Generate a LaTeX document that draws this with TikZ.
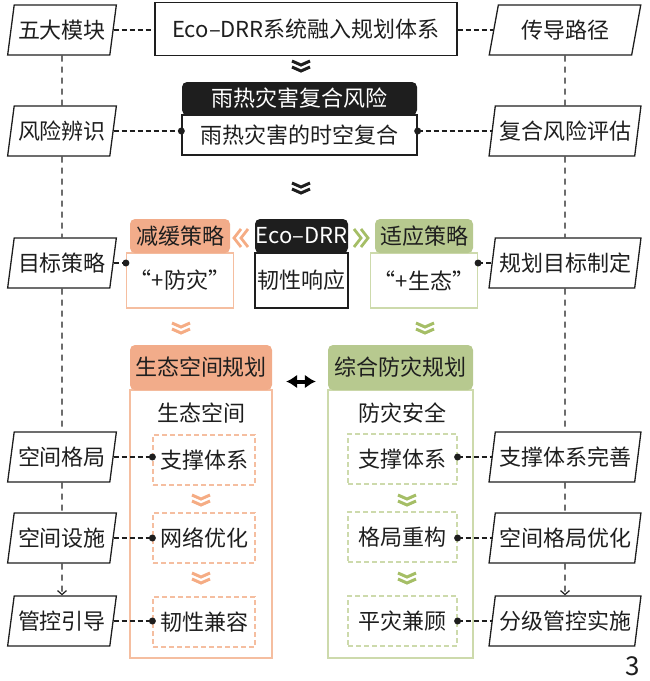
\documentclass[tikz,border=0pt]{standalone}
\usepackage{fontspec}
\newfontfamily\cjk{Noto Sans CJK SC}
\usetikzlibrary{shapes.geometric,arrows.meta}
\definecolor{ink}{RGB}{30,30,30}
\definecolor{orhead}{RGB}{242,172,138}
\definecolor{orline}{RGB}{245,190,160}
\definecolor{orchev}{RGB}{245,172,132}
\definecolor{grhead}{RGB}{183,201,143}
\definecolor{grline}{RGB}{205,218,172}
\definecolor{grchev}{RGB}{165,190,102}
\begin{document}
\begin{tikzpicture}[x=1pt,y=-1pt,
	every node/.style={font=\cjk\fontsize{22}{22}\selectfont, text=ink},
	para/.style={trapezium, trapezium left angle=77, trapezium right angle=103, trapezium stretches=true,
		draw=ink, line width=1.3pt, minimum width=109pt, minimum height=50pt, inner xsep=-3pt, inner ysep=2pt},
	frame/.style={draw=ink, line width=1.3pt, inner sep=0pt},
	hdr/.style={rounded corners=5pt, inner sep=0pt},
	subbox/.style={dash pattern=on 5pt off 3pt, line width=1.2pt, inner sep=0pt, minimum width=#1, minimum height=50pt},
	link/.style={draw=ink, line width=1.2pt, dash pattern=on 5pt off 3pt},
	vlink/.style={draw=ink, line width=1.2pt, dash pattern=on 6pt off 5pt},
	chevd/.pic={\draw[line width=3pt, pic actions] (-9,-5) -- (0,-1) -- (9,-5) (-9,1) -- (0,5) -- (9,1);},
	chevl/.pic={\draw[line width=2.8pt, pic actions] (0,-9) -- (-7,0) -- (0,9) (7,-9) -- (0,0) -- (7,9);},
	chevr/.pic={\draw[line width=2.8pt, pic actions] (0,-9) -- (7,0) -- (0,9) (-7,-9) -- (0,0) -- (-7,9);}
	]
	\useasboundingbox (0,0) rectangle (650,681);

	\node[para] (p1) at (62,30) {五大模块};
	\node[para] (p2) at (62,131) {风险辨识};
	\node[para] (p3) at (62,263) {目标策略};
	\node[para] (p4) at (62,457) {空间格局};
	\node[para] (p5) at (62,538) {空间设施};
	\node[para] (p6) at (62,621) {管控引导};
	\node[para, minimum width=152pt] (q1) at (565,30) {传导路径};
	\node[para, minimum width=152pt] (q2) at (565,131) {复合风险评估};
	\node[para, minimum width=152pt] (q3) at (565,263) {规划目标制定};
	\node[para, minimum width=152pt] (q4) at (565,457) {支撑体系完善};
	\node[para, minimum width=152pt] (q5) at (565,538) {空间格局优化};
	\node[para, minimum width=152pt] (q6) at (565,621) {分级管控实施};

	\node[frame, minimum width=302pt, minimum height=53pt] (sys) at (306,29) {Eco–DRR系统融入规划体系};
	\pic[ink] at (301,66) {chevd};

	\node[frame, minimum width=235pt, minimum height=40pt] (rb) at (299.5,135) {雨热灾害的时空复合};
	\node[hdr, fill=ink, text=white, minimum width=235pt, minimum height=33pt] (rh) at (299.5,98.5) {雨热灾害复合风险};
	\pic[ink] at (301,188) {chevd};

	\node[draw=orline, line width=1.3pt, minimum width=100pt, minimum height=55pt] (mb) at (180,280.5) {“+防灾”};
	\node[hdr, fill=orhead, minimum width=100pt, minimum height=34pt] (mh) at (180,236) {减缓策略};
	\node[frame, minimum width=93pt, minimum height=55pt] (eb) at (301.5,280.5) {韧性响应};
	\node[hdr, fill=ink, text=white, minimum width=93pt, minimum height=34pt] (eh) at (301.5,236) {Eco–DRR};
	\node[draw=grline, line width=1.3pt, minimum width=98pt, minimum height=55pt] (ab) at (424,280.5) {“+生态”};
	\node[hdr, fill=grhead, minimum width=98pt, minimum height=34pt] (ah) at (424,236) {适应策略};
	\pic[orchev] at (241,238) {chevl};
	\pic[grchev] at (361,238) {chevr};
	\pic[orchev] at (181,328) {chevd};
	\pic[grchev] at (425,328) {chevd};

	\node[draw=orline, line width=1.5pt, minimum width=142pt, minimum height=268pt] (lb) at (201,524) {};
	\node[hdr, fill=orhead, minimum width=142pt, minimum height=45pt] (lh) at (201,367.5) {生态空间规划};
	\node[draw=grline, line width=1.5pt, minimum width=145pt, minimum height=268pt] (gb) at (400.5,524) {};
	\node[hdr, fill=grhead, minimum width=145pt, minimum height=45pt] (gh) at (400.5,367.5) {综合防灾规划};
	\draw[{Latex[length=11pt,width=14pt]}-{Latex[length=11pt,width=14pt]}, line width=4pt, shorten <=14pt, shorten >=12pt]
		([yshift=-14pt]lh.east) -- ([yshift=-14pt]gh.west);
	\node (ls) at (201,413) {生态空间};
	\node (gs) at (402,413) {防灾安全};

	\node[subbox=102pt, draw=orline] (l1) at (204,460) {支撑体系};
	\node[subbox=102pt, draw=orline] (l2) at (204,538) {网络优化};
	\node[subbox=102pt, draw=orline] (l3) at (204,622) {韧性兼容};
	\node[subbox=109pt, draw=grline] (g1) at (402.5,459) {支撑体系};
	\node[subbox=109pt, draw=grline] (g2) at (402.5,537) {格局重构};
	\node[subbox=109pt, draw=grline] (g3) at (402.5,621) {平灾兼顾};
	\pic[orchev] at (201,500) {chevd};
	\pic[orchev] at (201,578) {chevd};
	\pic[grchev] at (407,500) {chevd};
	\pic[grchev] at (407,578) {chevd};

	\draw[vlink] (p1) -- (p2);
	\draw[vlink] (p2) -- (p3);
	\draw[vlink] (p3) -- (p4);
	\draw[vlink] (p4) -- (p5);
	\draw[vlink, -{Straight Barb[length=4pt,width=9pt]}] (p5) -- (p6);
	\draw[vlink] (q1) -- (q2);
	\draw[vlink] (q2) -- (q3);
	\draw[vlink] (q3) -- (q4);
	\draw[vlink] (q4) -- (q5);
	\draw[vlink, -{Straight Barb[length=4pt,width=9pt]}] (q5) -- (q6);

	\draw[link] (p1.east) -- (p1.east -| sys.west);
	\draw[link] (sys.east |- q1.west) -- (q1.west);
	\draw[link] (p2.east) -- (p2.east -| rb.west);
	\fill[ink] (p2.east -| rb.west) circle (3.5pt);
	\draw[link] (rb.east |- q2.west) -- (q2.west);
	\fill[ink] (rb.east |- q2.west) circle (3.5pt);
	\draw[link] (p3.east) -- (p3.east -| mb.west);
	\fill[ink] (p3.east -| mb.west) circle (3.5pt);
	\draw[link] (ab.east |- q3.west) -- (q3.west);
	\fill[ink] (ab.east |- q3.west) circle (3.5pt);
	\draw[link] (p4.east) -- (p4.east -| l1.west);
	\fill[ink] (p4.east -| l1.west) circle (3.5pt);
	\draw[link] (p5.east) -- (p5.east -| l2.west);
	\fill[ink] (p5.east -| l2.west) circle (3.5pt);
	\draw[link] (p6.east) -- (p6.east -| l3.west);
	\fill[ink] (p6.east -| l3.west) circle (3.5pt);
	\draw[link] (g1.east |- q4.west) -- (q4.west);
	\fill[ink] (g1.east |- q4.west) circle (3.5pt);
	\draw[link] (g2.east |- q5.west) -- (q5.west);
	\fill[ink] (g2.east |- q5.west) circle (3.5pt);
	\draw[link] (g3.east |- q6.west) -- (q6.west);
	\fill[ink] (g3.east |- q6.west) circle (3.5pt);

	\node[font=\cjk\fontsize{26}{26}\selectfont] (num) at (633,666) {3};
\end{tikzpicture}
\end{document}
